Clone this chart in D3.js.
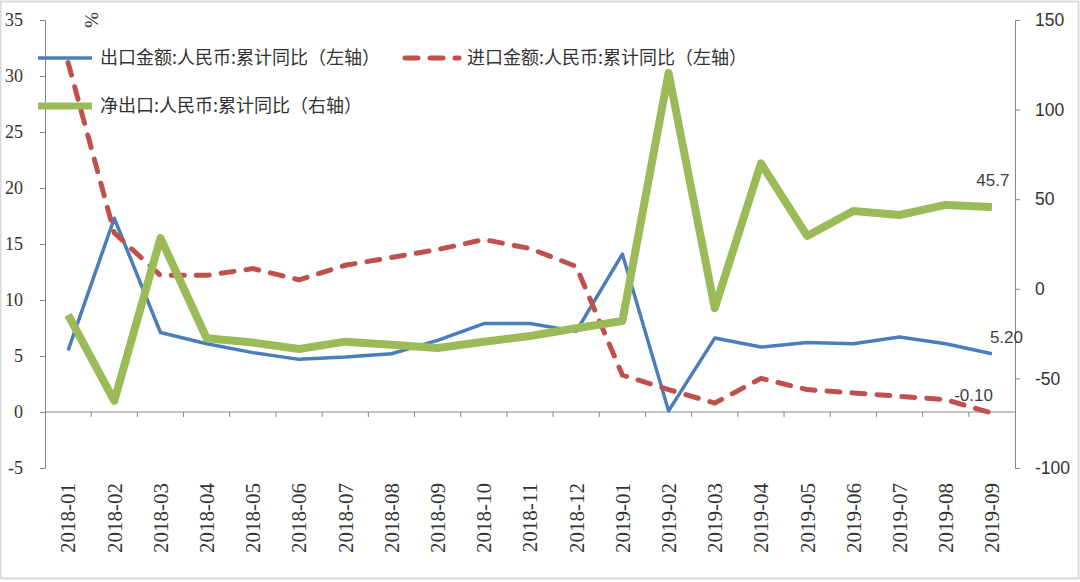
<!DOCTYPE html>
<html>
<head>
<meta charset="utf-8">
<script src="https://cdn.jsdelivr.net/npm/d3@7/dist/d3.min.js"></script>
<style>
  body { margin: 0; background: #fff; }
  .axis path, .axis line { stroke: #868686; }
  .axis text { fill: #333; }
</style>
</head>
<body>
<div class="chart"></div>
<script>
var months = ['2018-01', '2018-02', '2018-03', '2018-04', '2018-05', '2018-06', '2018-07',
  '2018-08', '2018-09', '2018-10', '2018-11', '2018-12', '2019-01', '2019-02', '2019-03',
  '2019-04', '2019-05', '2019-06', '2019-07', '2019-08', '2019-09'];

// 出口金额:人民币:累计同比 (left axis, %)
var exportYoy = [5.5, 17.3, 7.1, 6.1, 5.3, 4.7, 4.9, 5.2, 6.4, 7.9, 7.9, 7.2, 14.1, 0.1,
  6.6, 5.8, 6.2, 6.1, 6.7, 6.1, 5.2];
// 进口金额:人民币:累计同比 (left axis, %)
var importYoy = [31.2, 16.0, 12.2, 12.2, 12.8, 11.8, 13.1, 13.8, 14.5, 15.4, 14.6, 13.0, 3.3,
  2.0, 0.8, 3.0, 2.0, 1.7, 1.4, 1.1, -0.1];
// 净出口:人民币:累计同比 (right axis, %)
var netExportYoy = [-14.6, -62.5, 28.3, -27.6, -30.0, -33.6, -29.5, -31.2, -33.0, -29.5, -26.3,
  -22.0, -18.0, 120.4, -10.8, 70.0, 29.5, 43.4, 41.2, 46.8, 45.7];

var leftTicks = [-5, 0, 5, 10, 15, 20, 25, 30, 35];
var rightTicks = [-100, -50, 0, 50, 100, 150];

var svgWidth = 1080;
var svgHeight = 582;
var plot = { left: 45, right: 1015, top: 20, bottom: 468 };

var svg = d3.select('.chart')
  .append('svg')
  .attr('width', svgWidth)
  .attr('height', svgHeight);

// light frame round the picture
svg.append('rect')
  .attr('x', 0.5).attr('y', 1.5)
  .attr('width', svgWidth - 2).attr('height', 577)
  .attr('fill', 'none')
  .attr('stroke', '#d9d9d9')
  .attr('stroke-width', 2);

var x = d3.scaleBand()
  .domain(months)
  .range([plot.left, plot.right])
  .padding(0);

var yLeft = d3.scaleLinear().domain([-5, 35]).range([plot.bottom, plot.top]);
var yRight = d3.scaleLinear().domain([-100, 150]).range([plot.bottom, plot.top]);

var cx = function(d, i) { return x(months[i]) + x.bandwidth() / 2; };

// plain hyphen for negatives, as in the original
var plain = d => String(d);

// left axis
var leftAxis = svg.append('g')
  .attr('class', 'axis')
  .attr('transform', `translate(${plot.left}, 0)`)
  .call(d3.axisLeft(yLeft).tickValues(leftTicks).tickFormat(plain)
    .tickSize(5).tickSizeOuter(5).tickPadding(17));
leftAxis.selectAll('text')
  .style('font-family', '"Liberation Serif", "Times New Roman", serif')
  .style('font-size', '18px');

// right axis
var rightAxis = svg.append('g')
  .attr('class', 'axis')
  .attr('transform', `translate(${plot.right}, 0)`)
  .call(d3.axisRight(yRight).tickValues(rightTicks).tickFormat(plain)
    .tickSize(5).tickSizeOuter(5).tickPadding(15));
rightAxis.selectAll('text')
  .style('font-family', '"Liberation Sans", Arial, sans-serif')
  .style('font-size', '17.5px');

// category axis sits on the zero line of the left scale
var zeroY = yLeft(0);
var xAxis = svg.append('g').attr('class', 'axis');
xAxis.append('line')
  .attr('x1', plot.left).attr('x2', plot.right)
  .attr('y1', zeroY).attr('y2', zeroY);
xAxis.selectAll('.tick')
  .data(months.slice(1))
  .enter()
  .append('line')
  .attr('x1', d => x(d)).attr('x2', d => x(d))
  .attr('y1', zeroY).attr('y2', zeroY + 5);

svg.selectAll('.xlabel')
  .data(months)
  .enter()
  .append('text')
  .attr('class', 'xlabel')
  .attr('transform', d => `translate(${x(d) + x.bandwidth() / 2}, 483) rotate(-90)`)
  .attr('text-anchor', 'end')
  .attr('dy', '0.35em')
  .style('font-family', '"Liberation Serif", "Times New Roman", serif')
  .style('font-size', '21px')
  .attr('fill', '#333')
  .text(d => d);

// unit
svg.append('text')
  .attr('transform', 'translate(85, 20) rotate(90)')
  .attr('text-anchor', 'middle')
  .style('font-family', '"Liberation Serif", serif')
  .style('font-size', '19px')
  .attr('fill', '#333')
  .text('%');

// lines
var exportLine = d3.line().x(cx).y(d => yLeft(d));
var importLine = d3.line().x(cx).y(d => yLeft(d));
var netLine = d3.line().x(cx).y(d => yRight(d));

svg.append('path')
  .datum(exportYoy)
  .attr('d', exportLine)
  .attr('fill', 'none')
  .attr('stroke', '#4a7ebb')
  .attr('stroke-width', 3.5)
  .attr('stroke-linejoin', 'round');

svg.append('path')
  .datum(importYoy)
  .attr('d', importLine)
  .attr('fill', 'none')
  .attr('stroke', '#c0504d')
  .attr('stroke-width', 5)
  .attr('stroke-linecap', 'round')
  .attr('stroke-dasharray', '13,12');

svg.append('path')
  .datum(netExportYoy)
  .attr('d', netLine)
  .attr('fill', 'none')
  .attr('stroke', '#9bbb59')
  .attr('stroke-width', 8)
  .attr('stroke-linejoin', 'round');

// end-point labels
var last = months.length - 1;
var labelFont = '"Liberation Sans", Arial, sans-serif';
svg.append('text')
  .attr('x', cx(null, last) + 1)
  .attr('y', yRight(netExportYoy[last]) - 21)
  .attr('text-anchor', 'middle')
  .style('font-family', labelFont).style('font-size', '17px')
  .attr('fill', '#404040')
  .text(netExportYoy[last].toFixed(1));
svg.append('text')
  .attr('x', cx(null, last) - 2)
  .attr('y', yLeft(exportYoy[last]) - 11)
  .attr('text-anchor', 'start')
  .style('font-family', labelFont).style('font-size', '17px')
  .attr('fill', '#404040')
  .text(exportYoy[last].toFixed(2));
svg.append('text')
  .attr('x', cx(null, last) + 1)
  .attr('y', yLeft(importYoy[last]) - 12)
  .attr('text-anchor', 'end')
  .style('font-family', labelFont).style('font-size', '17px')
  .attr('fill', '#404040')
  .text(importYoy[last].toFixed(2));

// legend
var legendItems = [
  { name: '出口金额:人民币:累计同比（左轴）', color: '#4a7ebb', width: 3.5, dash: null, x: 38, y: 58 },
  { name: '进口金额:人民币:累计同比（左轴）', color: '#c0504d', width: 5, dash: '13,12', x: 405, y: 58 },
  { name: '净出口:人民币:累计同比（右轴）', color: '#9bbb59', width: 7, dash: null, x: 38, y: 106 }
];

var legend = svg.selectAll('.legend')
  .data(legendItems)
  .enter()
  .append('g')
  .attr('class', 'legend')
  .attr('transform', d => `translate(${d.x}, ${d.y})`);

legend.append('line')
  .attr('x1', 0).attr('x2', 54)
  .attr('stroke', d => d.color)
  .attr('stroke-width', d => d.width)
  .attr('stroke-dasharray', d => d.dash)
  .attr('stroke-linecap', d => d.dash ? 'round' : 'butt');

legend.append('text')
  .attr('x', 62)
  .attr('dy', '0.35em')
  .style('font-family', '"Noto Sans CJK SC", sans-serif')
  .style('font-size', '18px')
  .attr('fill', '#333')
  .text(d => d.name);
</script>
</body>
</html>
